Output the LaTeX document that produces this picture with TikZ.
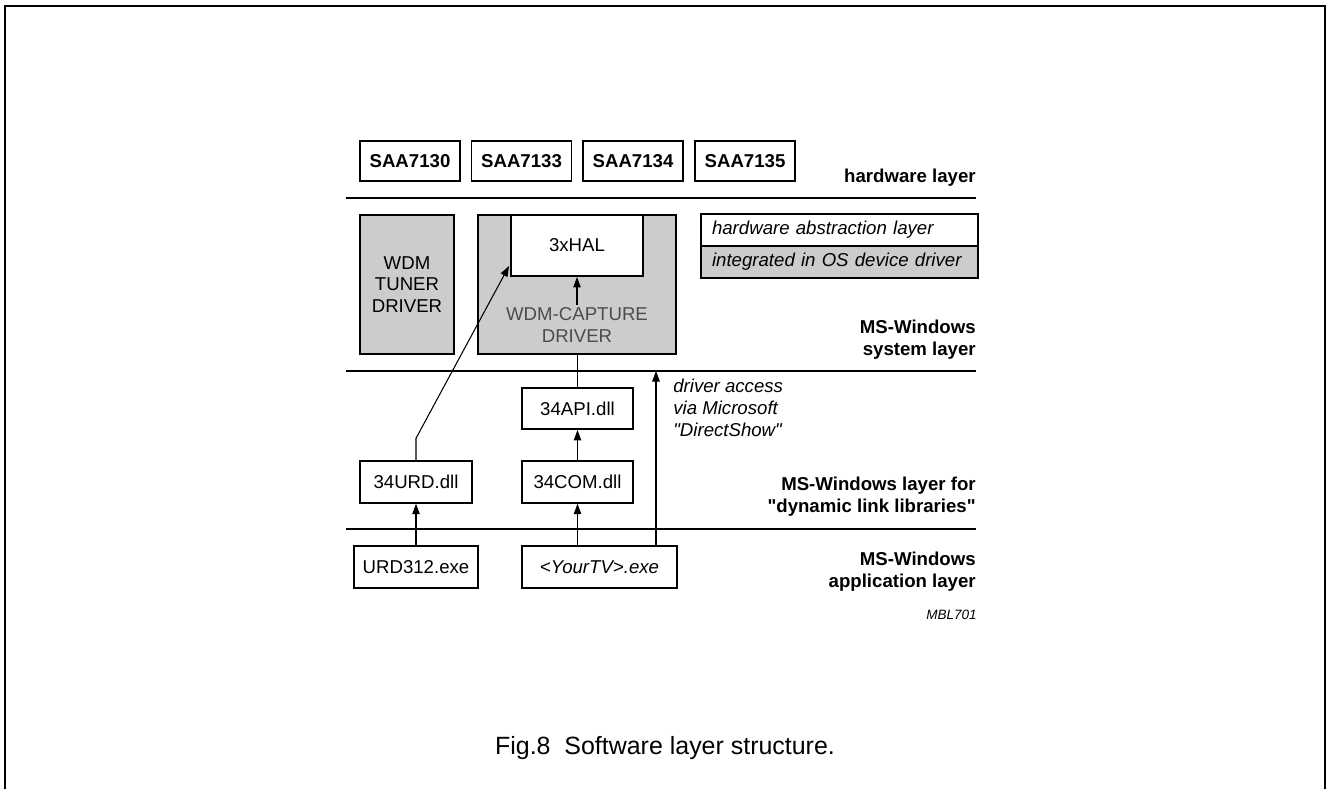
\documentclass[tikz,border=0pt]{standalone}
\usepackage{fontspec}
\setmainfont{Liberation Sans}
\usepackage{xcolor}
\usepackage{tikz}
\usetikzlibrary{arrows.meta,positioning,calc}

\definecolor{drvgray}{gray}{0.8}
\newcommand{\boxfont}{\fontsize{10.6}{12.4}\selectfont}

\tikzset{
    chip/.style={draw, line width=1.1pt, minimum width=2cm, minimum height=0.8cm, inner sep=0pt, font=\boxfont\bfseries},
    swbox/.style={draw, line width=1.1pt, minimum height=0.83cm, inner sep=0pt, font=\boxfont},
    drvbox/.style={draw, line width=1.1pt, fill=drvgray, inner sep=0pt, align=center, font=\boxfont},
    legrow/.style={draw, line width=1.1pt, minimum height=0.64cm, text width=5.1cm, inner xsep=0.22cm, inner ysep=0pt, align=left, font=\boxfont\itshape},
    layername/.style={inner sep=0pt, align=right, anchor=east, font=\boxfont\bfseries},
    layerline/.style={line width=0.6pt},
    link/.style={line width=0.6pt},
    uparrow/.style={line width=0.6pt, -{Triangle[length=2.1mm,width=1.5mm]}}
}

\begin{document}
\begin{tikzpicture}[x=0.02cm, y=-0.02cm]
    \useasboundingbox (0,0) rectangle (1327,789);
    % Frame (open at the bottom)
    \draw[line width=1.1pt] (5,789) -- (5,6) -- (1325,6) -- (1325,789);

    % Hardware layer
    \node[chip] (saa0) at (410,161) {SAA7130};
    \node[chip] (saa3) at (521.5,161) {SAA7133};
    \node[chip] (saa4) at (633,161) {SAA7134};
    \node[chip] (saa5) at (745,161) {SAA7135};
    \node[layername, anchor=base east] (hwlayer) at (976,182) {hardware layer};
    \draw[layerline] (346,198) -- (976,198);

    % MS-Windows system layer
    \node[drvbox, minimum width=1.88cm, minimum height=2.78cm] (tuner) at (407,284.5) {WDM\\TUNER\\DRIVER};
    \node[drvbox, minimum width=3.96cm, minimum height=2.78cm] (capture) at (577,284.5) {};
    \node[drvbox, fill=white, minimum width=2.64cm, minimum height=1.22cm] (hal) at (577,245.5) {3xHAL};
    \node[inner sep=1.5pt, align=center, text=black!70, font=\boxfont] (captxt) at (577,325) {WDM-CAPTURE\\DRIVER};

    % Legend
    \node[legrow, fill=white] (legwhite) at (839.5,230) {hardware abstraction layer};
    \node[legrow, fill=drvgray] (leggray) at (839.5,262) {integrated in OS device driver};

    \node[layername] (syslayer) at (976,340) {MS-Windows\\system layer};
    \draw[layerline] (346,371) -- (976,371);

    % DLL layer
    \node[swbox, minimum width=2.22cm, minimum height=0.82cm] (api) at (577.5,408.5) {34API.dll};
    \node[swbox, minimum width=2.22cm] (com) at (577.5,482) {34COM.dll};
    \node[swbox, minimum width=2.24cm] (urd) at (416,482) {34URD.dll};
    \node[inner sep=0pt, anchor=west, align=left, font=\boxfont\itshape] (dsnote) at (673,408) {driver access\\via Microsoft\\\textquotedbl DirectShow\textquotedbl};
    \node[layername] (dlllayer) at (976,497) {MS-Windows layer for\\\textquotedbl dynamic link libraries\textquotedbl};
    \draw[layerline] (346,529) -- (976,529);

    % Application layer
    \node[swbox, minimum width=2.48cm] (urdexe) at (416,567) {URD312.exe};
    \node[swbox, minimum width=3.1cm, font=\boxfont\itshape] (tvexe) at (599.5,567) {\textless YourTV\textgreater.exe};
    \node[layername] (applayer) at (976,571.5) {MS-Windows\\application layer};
    \node[inner sep=0pt, anchor=east, font=\fontsize{7.7}{9}\selectfont\itshape] (code) at (977,615) {MBL701};

    % Connections
    \draw[uparrow] (urdexe.north) -- (urd.south);
    \draw[uparrow] (tvexe.north -| com.south) -- (com.south);
    \draw[uparrow] (com.north) -- (api.south);
    \draw[link] (api.north) -- (api.north |- capture.south);
    \draw[uparrow] (captxt.north) -- (hal.south);
    \draw[uparrow] (urd.north) -- ++(0,-22) -- ($(hal.south west)+(-1,-11)$);
    \coordinate (dsend) at (656,371);
    \draw[uparrow] (tvexe.north -| dsend) -- (dsend);

    % Caption
    \node[font=\fontsize{14.2}{17}\selectfont] (caption) at (665,748) {Fig.8\ \ Software layer structure.};
\end{tikzpicture}
\end{document}
